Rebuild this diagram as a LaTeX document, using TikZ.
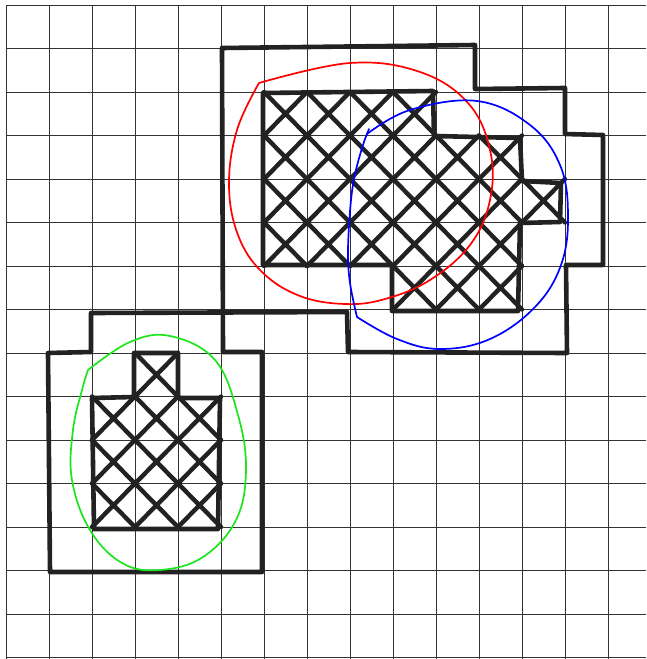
\documentclass[tikz,border=0pt]{standalone}
\usetikzlibrary{calc}
\definecolor{ink}{HTML}{222222}
\definecolor{gridc}{HTML}{333333}
\definecolor{lime}{RGB}{30,230,30}
\tikzset{
  gridline/.style={gridc, line width=0.9pt},
  outline/.style={ink, line width=4.6pt, line join=round, line cap=round},
  hatch/.style={ink, line width=4.4pt, line cap=round},
  loopline/.style={line width=1.7pt, line join=round, line cap=round},
}
\begin{document}
\begin{tikzpicture}[x=1pt,y=-1pt]
\useasboundingbox (0,0) rectangle (646,659);
\fill[white] (0,0) rectangle (646,659);
% grid
\foreach \i in {0,...,14} { \draw[gridline] ({6+43*\i},5) -- ({6+43*\i},659); }
\foreach \j in {0,...,15} { \draw[gridline] (6,{5+43.5*\j}) -- (646,{5+43.5*\j}); }
% hatching (both diagonals of each cell)
\begin{scope}[shift={(6,5)}, x=43pt, y=-43.5pt]
\foreach \i/\j in {6/2,7/2,8/2,9/2,
                   6/3,7/3,8/3,9/3,10/3,11/3,
                   6/4,7/4,8/4,9/4,10/4,11/4,12/4,
                   6/5,7/5,8/5,9/5,10/5,11/5,
                   9/6,10/6,11/6,
                   3/8,
                   2/9,3/9,4/9,
                   2/10,3/10,4/10,
                   2/11,3/11,4/11} {
  \draw[hatch] (\i,\j) -- ({\i+1},{\j+1}) ({\i+1},\j) -- (\i,{\j+1});
}
\end{scope}
% hatched region outlines
\draw[outline] (263,93) -- (433,91) -- (434,136) -- (520,138) -- (522,181) -- (561,183)
  -- (560,222) -- (520,223) -- (518,311) -- (392,311) -- (392,265) -- (263,265) -- cycle;
\draw[outline] (134,353) -- (178,353) -- (178,398) -- (220,398) -- (218,529) -- (94,529)
  -- (92,398) -- (134,397) -- cycle;
% outer outline
\draw[outline] (222,48) -- (475,45) -- (475,89) -- (565,88) -- (565,134) -- (603,135)
  -- (603,265) -- (566,265) -- (567,353) -- (348,352) -- (347,312) -- (91,313)
  -- (91,352) -- (48,353) -- (50,572) -- (262,572) -- (262,352) -- (223,352) -- cycle;
% red loop
\draw[loopline, red] plot[smooth, tension=0.65] coordinates {
  (259,83) (350,63) (420,72) (468,103) (490,150) (490,200) (470,245) (430,280)
  (385,299) (345,304) (300,296) (262,272) (238,235) (229,185) (237,130) (259,83)};
% blue loop
\draw[loopline, blue] plot[smooth, tension=0.65] coordinates {
  (367,134) (410,110) (477,101) (530,125) (560,165) (568,215) (561,265)
  (535,307) (490,339) (440,349) (397,339) (357,317)};
\draw[loopline, blue] plot[smooth, tension=0.6] coordinates {
  (357,317) (350,283) (348,250) (351,200) (356,170) (363,145) (367,134) (369,129)};
% green loop
\draw[loopline, lime] plot[smooth, tension=0.65] coordinates {
  (88,370) (130,342) (170,336) (215,360) (238,415) (246,470) (236,520) (203,557)
  (160,570) (122,563) (90,530) (72,480) (73,430) (82,390) (88,370)};
\end{tikzpicture}
\end{document}
